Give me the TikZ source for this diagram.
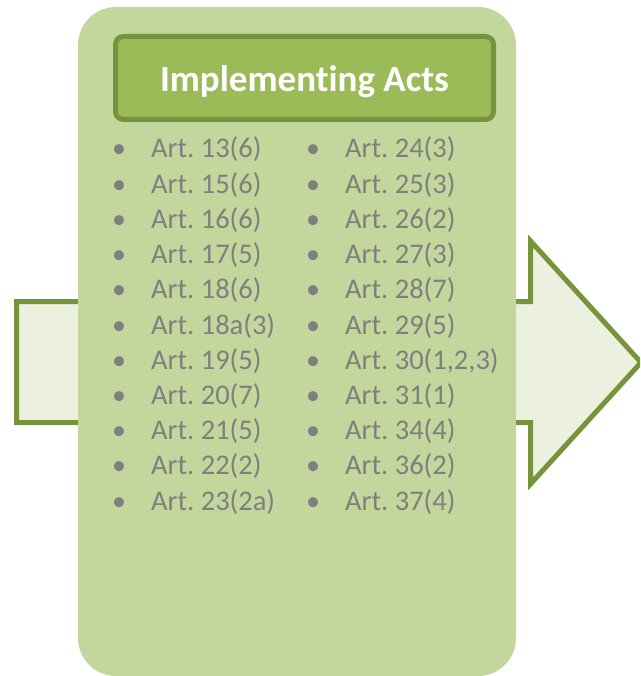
\documentclass[tikz,border=0pt]{standalone}
\usepackage{fontspec}
\setmainfont{Carlito}[Ligatures={NoCommon}]
\definecolor{arrowline}{HTML}{77933C}
\definecolor{arrowfill}{HTML}{EBF1DE}
\definecolor{panelfill}{HTML}{C3D69B}
\definecolor{headfill}{HTML}{9BBB59}
\definecolor{headline}{HTML}{77933C}
\definecolor{itemgrey}{HTML}{7F7F7F}
\tikzset{
  arrowshape/.style={draw=arrowline, fill=arrowfill, line width=5pt, line join=miter},
  panel/.style={fill=panelfill, rounded corners=38pt, inner sep=0pt, minimum width=438pt, minimum height=669pt},
  headerbox/.style={draw=headline, fill=headfill, line width=5pt, rounded corners=8pt,
    minimum width=378pt, minimum height=83pt, inner sep=0pt, text=white,
    text height=27pt, text depth=0pt,
    font=\fontsize{37}{40}\selectfont\bfseries},
  itemtext/.style={anchor=base west, inner sep=0pt, text=itemgrey, font=\fontsize{28.5}{34}\selectfont\frenchspacing},
  bullettext/.style={anchor=base, inner sep=0pt, text=itemgrey, font=\fontsize{28}{34}\selectfont}
}
\begin{document}
\begin{tikzpicture}[x=1pt,y=-1pt]
\clip (0,0) rectangle (640,676);
\coordinate (a1) at (16.5,301.5);
\coordinate (a2) at (530.5,301.5);
\coordinate (a3) at (530.5,241);
\coordinate (a4) at (641,362.5);
\coordinate (a5) at (530.5,484);
\coordinate (a6) at (530.5,422.5);
\coordinate (a7) at (16.5,422.5);
\draw[arrowshape] (a1) -- (a2) -- (a3) -- (a4) -- (a5) -- (a6) -- (a7) -- cycle;
\node[panel] (panel) at (297,341.5) {};
\node[headerbox] (hdr) at (304.5,78) {Implementing Acts};
\foreach \t [count=\i] in {13(6),15(6),16(6),17(5),18(6),18a(3),19(5),20(7),21(5),22(2),23(2a)} {
  \node[bullettext] (b1-\i) at (119,{158+35.2*(\i-1)}) {•};
  \node[itemtext] (c1-\i) at (151,{158+35.2*(\i-1)}) {Art. \t};
}
\foreach \t [count=\i] in {24(3),25(3),26(2),27(3),28(7),29(5),{30(1,2,3)},31(1),34(4),36(2),37(4)} {
  \node[bullettext] (b2-\i) at (313,{158+35.2*(\i-1)}) {•};
  \node[itemtext] (c2-\i) at (345,{158+35.2*(\i-1)}) {Art. \t};
}
\end{tikzpicture}
\end{document}
